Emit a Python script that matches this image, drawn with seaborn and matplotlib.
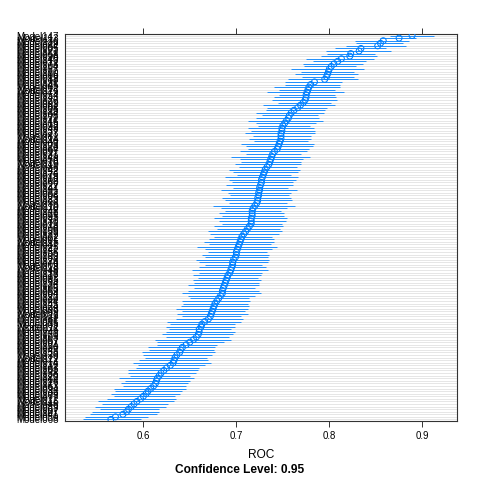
import numpy as np
import pandas as pd
import matplotlib
matplotlib.use("Agg")
import matplotlib.pyplot as plt
import seaborn as sns

# Models listed top to bottom (highest ROC first)
model_ids = [147, 113, 136, 29, 84, 5, 121, 58, 96, 140,
             12, 73, 104, 37, 150, 66, 19, 88, 131, 45,
             2, 117, 79, 54, 143, 26, 99, 61, 8, 125,
             34, 108, 71, 146, 15, 92, 49, 137, 23, 81,
             114, 40, 3, 128, 64, 97, 31, 149, 56, 10,
             119, 86, 42, 133, 75, 18, 102, 60, 27, 144,
             91, 52, 6, 123, 83, 36, 110, 70, 148, 21,
             95, 47, 130, 13, 78, 106, 39, 139, 62, 1,
             115, 87, 25, 142, 55, 100, 33, 126, 74, 9,
             118, 48, 138, 17, 93, 65, 134, 28, 105, 59,
             4, 122, 80, 44, 145, 24, 98, 69, 11, 129,
             51, 85, 35, 111, 76, 141, 20, 103, 57, 7,
             124, 90, 43, 135, 30, 112, 72, 14, 132, 63,
             101, 38, 120, 82, 16, 127, 53, 94, 32, 109,
             77, 22, 116, 46, 89, 67, 107, 41, 50, 68]

roc = [0.889, 0.875, 0.858, 0.855, 0.852, 0.834, 0.832, 0.823, 0.822, 0.813,
       0.809, 0.805, 0.802, 0.800, 0.799, 0.798, 0.797, 0.795, 0.784, 0.780,
       0.778, 0.777, 0.776, 0.775, 0.775, 0.774, 0.772, 0.769, 0.766, 0.762,
       0.759, 0.757, 0.756, 0.754, 0.752, 0.750, 0.749, 0.749, 0.748, 0.748,
       0.748, 0.747, 0.746, 0.745, 0.744, 0.741, 0.739, 0.738, 0.737, 0.736,
       0.735, 0.733, 0.731, 0.730, 0.729, 0.728, 0.727, 0.727, 0.726, 0.725,
       0.725, 0.724, 0.724, 0.723, 0.723, 0.722, 0.720, 0.718, 0.717, 0.717,
       0.717, 0.716, 0.716, 0.716, 0.714, 0.712, 0.710, 0.708, 0.706, 0.705,
       0.704, 0.703, 0.702, 0.701, 0.700, 0.700, 0.699, 0.697, 0.696, 0.696,
       0.695, 0.694, 0.693, 0.691, 0.690, 0.689, 0.688, 0.687, 0.686, 0.685,
       0.685, 0.683, 0.681, 0.679, 0.677, 0.676, 0.675, 0.674, 0.673, 0.672,
       0.670, 0.666, 0.663, 0.662, 0.660, 0.660, 0.659, 0.657, 0.654, 0.650,
       0.646, 0.642, 0.640, 0.639, 0.636, 0.634, 0.633, 0.632, 0.629, 0.625,
       0.622, 0.619, 0.617, 0.615, 0.614, 0.613, 0.611, 0.608, 0.605, 0.603,
       0.600, 0.597, 0.593, 0.590, 0.587, 0.584, 0.582, 0.578, 0.570, 0.565]

lo_err = [0.024, 0.021, 0.030, 0.026, 0.034, 0.028, 0.036, 0.025, 0.031, 0.038,
          0.027, 0.033, 0.029, 0.041, 0.030, 0.035, 0.026, 0.039, 0.032, 0.028,
          0.037, 0.031, 0.043, 0.029, 0.034, 0.036, 0.027, 0.040, 0.033, 0.030,
          0.038, 0.029, 0.035, 0.042, 0.031, 0.027, 0.036, 0.033, 0.039, 0.030,
          0.034, 0.028, 0.041, 0.035, 0.032, 0.037, 0.029, 0.044, 0.033, 0.031,
          0.036, 0.030, 0.039, 0.034, 0.028, 0.040, 0.035, 0.032, 0.037, 0.029,
          0.042, 0.033, 0.031, 0.038, 0.035, 0.030, 0.045, 0.034, 0.029, 0.036,
          0.032, 0.040, 0.035, 0.031, 0.038, 0.033, 0.041, 0.036, 0.030, 0.034,
          0.039, 0.032, 0.044, 0.035, 0.031, 0.037, 0.033, 0.040, 0.036, 0.030,
          0.035, 0.042, 0.033, 0.038, 0.031, 0.036, 0.034, 0.039, 0.032, 0.037,
          0.043, 0.035, 0.031, 0.038, 0.034, 0.036, 0.040, 0.033, 0.037, 0.031,
          0.035, 0.041, 0.034, 0.038, 0.032, 0.036, 0.039, 0.033, 0.042, 0.035,
          0.031, 0.037, 0.034, 0.040, 0.036, 0.032, 0.038, 0.043, 0.035, 0.033,
          0.039, 0.036, 0.031, 0.041, 0.034, 0.037, 0.033, 0.040, 0.035, 0.038,
          0.032, 0.036, 0.042, 0.034, 0.039, 0.031, 0.037, 0.035, 0.033, 0.030]

hi_err = [0.024, 0.018, 0.028, 0.024, 0.030, 0.027, 0.034, 0.026, 0.029, 0.035,
          0.030, 0.031, 0.027, 0.037, 0.028, 0.033, 0.029, 0.036, 0.030, 0.031,
          0.034, 0.029, 0.040, 0.031, 0.032, 0.034, 0.030, 0.037, 0.031, 0.033,
          0.035, 0.031, 0.033, 0.039, 0.034, 0.029, 0.034, 0.036, 0.037, 0.032,
          0.032, 0.030, 0.038, 0.037, 0.034, 0.035, 0.031, 0.041, 0.035, 0.033,
          0.034, 0.032, 0.037, 0.036, 0.030, 0.038, 0.037, 0.034, 0.035, 0.031,
          0.040, 0.035, 0.033, 0.036, 0.037, 0.032, 0.043, 0.036, 0.031, 0.034,
          0.034, 0.038, 0.037, 0.033, 0.036, 0.035, 0.039, 0.038, 0.032, 0.036,
          0.037, 0.034, 0.042, 0.037, 0.033, 0.035, 0.035, 0.038, 0.038, 0.032,
          0.037, 0.040, 0.035, 0.036, 0.033, 0.038, 0.036, 0.037, 0.034, 0.039,
          0.041, 0.037, 0.033, 0.036, 0.036, 0.038, 0.038, 0.035, 0.039, 0.033,
          0.037, 0.039, 0.036, 0.036, 0.034, 0.038, 0.037, 0.035, 0.040, 0.037,
          0.033, 0.035, 0.036, 0.038, 0.038, 0.034, 0.036, 0.041, 0.037, 0.035,
          0.037, 0.038, 0.033, 0.039, 0.036, 0.035, 0.035, 0.038, 0.037, 0.036,
          0.034, 0.038, 0.040, 0.036, 0.037, 0.033, 0.035, 0.037, 0.035, 0.032]

x_ticks = [0.6, 0.7, 0.8, 0.9]
x_label = "ROC"
sub_label = "Confidence Level: 0.95"

n = len(roc)
df = pd.DataFrame({
    "model": ["Model%03d" % m for m in model_ids[:n]],
    "roc": roc,
    "lower": np.array(roc) - np.array(lo_err[:n]),
    "upper": np.array(roc) + np.array(hi_err[:n]),
})
# bottom row = lowest ROC
df["pos"] = np.arange(n)[::-1]

sns.set_theme(style="white")
plt.rcParams["font.family"] = ["Liberation Sans", "DejaVu Sans"]

fig = plt.figure(figsize=(4.8, 4.8), dpi=100)
ax = fig.add_axes([65 / 480, (480 - 421) / 480, 392 / 480, 387 / 480])

# reference lines
for p in df["pos"]:
    ax.axhline(p, color="#e6e6e6", lw=0.7, zorder=1)

blue = "#0080ff"
ax.hlines(df["pos"], df["lower"], df["upper"], color=blue, lw=0.6, zorder=2)
sns.scatterplot(data=df, x="roc", y="pos", ax=ax, marker="o", s=18,
                facecolor="none", edgecolor=blue, linewidth=0.75, zorder=3,
                legend=False)

ax.set_xlim(0.5157, 0.9373)
ax.set_ylim(-0.6, n - 1 + 0.6)

ax.set_xticks(x_ticks)
ax.set_xticklabels([str(t) for t in x_ticks])
ax.set_yticks(df["pos"])
ax.set_yticklabels(df["model"])
ax.tick_params(axis="x", which="both", direction="out", length=4.5, width=0.7,
               color="#333333", top=True, bottom=True, labeltop=False,
               labelsize=6.9, pad=3, labelcolor="black")
ax.tick_params(axis="y", length=0, pad=4.3, labelsize=7.0, labelcolor="black")
ax.set_xlabel("")
ax.set_ylabel("")
for s in ax.spines.values():
    s.set_visible(True)
    s.set_color("#333333")
    s.set_linewidth(0.8)

fig.text(261 / 480, 1 - 455 / 480, x_label, ha="center", va="center",
         fontsize=8.6, color="black")
fig.text(240 / 480, 1 - 470 / 480, sub_label, ha="center", va="center",
         fontsize=8.6, fontweight="bold", color="black")

fig.savefig("out.png", dpi=100, facecolor="white")
